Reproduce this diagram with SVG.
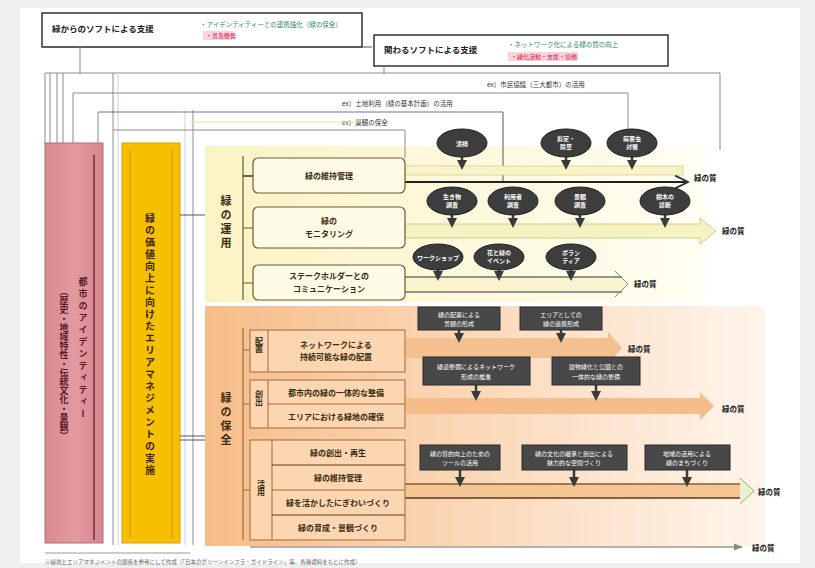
<svg xmlns="http://www.w3.org/2000/svg" width="815" height="568" viewBox="0 0 815 568">
<defs>
<linearGradient id="gOr" x1="0" x2="1" y1="0" y2="0"><stop offset="0" stop-color="#f6bd8a"/><stop offset="0.55" stop-color="#fbdcbf"/><stop offset="1" stop-color="#fff5ec"/></linearGradient>
<linearGradient id="gYe" x1="0" x2="1" y1="0" y2="0"><stop offset="0" stop-color="#faf3c4"/><stop offset="1" stop-color="#fffef3"/></linearGradient>
<linearGradient id="gPk" x1="0" x2="1"><stop offset="0" stop-color="#d98890"/><stop offset="0.5" stop-color="#e39aa0"/><stop offset="1" stop-color="#d6868e"/></linearGradient>
<marker id="dn" viewBox="0 0 10 10" refX="5" refY="5" markerWidth="4" markerHeight="4" orient="auto"><path d="M0,0 L10,5 L0,10 Z" fill="#3a3a3a"/></marker>
<marker id="bk" viewBox="0 0 10 10" refX="9" refY="5" markerWidth="8" markerHeight="8" orient="auto"><path d="M1,1 L9,5 L1,9" fill="none" stroke="#333" stroke-width="1.2"/></marker>
<marker id="gy" viewBox="0 0 10 10" refX="9" refY="5" markerWidth="6" markerHeight="6" orient="auto"><path d="M0,1 L10,5 L0,9 Z" fill="#888"/></marker>
</defs>
<style>
text{font-family:"Noto Sans CJK JP","Noto Sans",sans-serif}
.lbl{font-size:8px;font-weight:bold;fill:#3a2c12;text-anchor:middle}
.ov{fill:#3d3d3d;stroke:#1f1f1f;stroke-width:1}
.ovt{font-size:6px;fill:#fff;font-weight:bold;text-anchor:middle}
.dk{fill:#484848;stroke:#2a2a2a;stroke-width:1}
.dkt{font-size:6px;fill:#fff;text-anchor:middle}
.q{font-size:7.5px;font-weight:bold;fill:#222}
.ln{stroke:#8c8c8c;stroke-width:1;fill:none}
.vt{writing-mode:vertical-rl;font-weight:bold}
.ybox{fill:#fdfbe6;stroke:#6a5c30;stroke-width:1.2}
.obox{fill:#fbd6b0;stroke:#a06a38;stroke-width:1}
.stem{stroke:#3a3a3a;stroke-width:2.5;marker-end:url(#dn)}
.ex{font-size:6.5px;fill:#333}
</style>
<rect width="815" height="568" fill="#efefef"/>
<rect x="20" y="8" width="780" height="555" fill="#ffffff"/>

<!-- top boxes -->
<g id="box-top1">
<rect x="42" y="13" width="320" height="34" fill="#fff" stroke="#333" stroke-width="1.5"/>
<text x="52" y="32" font-size="8.5" font-weight="bold" fill="#222">緑からのソフトによる支援</text>
<text x="200" y="27" font-size="6.5" fill="#2a8a5a">・アイデンティティーとの連携強化（緑の保全）</text>
<rect x="203" y="31" width="30" height="9" fill="#fbd3dc"/>
<text x="206" y="38" font-size="6" fill="#d0204a">・普及啓発</text>
</g>
<g id="box-top2">
<rect x="374" y="35" width="294" height="31" fill="#fff" stroke="#333" stroke-width="1.5"/>
<text x="384" y="53" font-size="8.5" font-weight="bold" fill="#222">関わるソフトによる支援</text>
<text x="508" y="47" font-size="6.5" fill="#2a8a5a">・ネットワーク化による緑の質の向上</text>
<rect x="508" y="52" width="70" height="9" fill="#fbd3dc"/>
<text x="511" y="59" font-size="6" fill="#d0204a">・緑化活動・支援・協働</text>
</g>

<!-- left columns -->
<g id="col-identity">
<rect x="45" y="143" width="58" height="400" fill="url(#gPk)" stroke="#b86a76" stroke-width="1"/>
<line x1="94" y1="155" x2="94" y2="540" stroke="#7a2a3a" stroke-width="1.5"/>
<text x="83" y="277" class="vt" font-size="9" letter-spacing="3" fill="#5a1a28">都市のアイデンティティー</text>
<text x="64" y="287" class="vt" font-size="9" fill="#5a1a28">（歴史・地域特性・伝統文化・景観）</text>
</g>
<g id="col-area">
<rect x="122" y="143" width="58" height="400" fill="#f6c000" stroke="#e0a000" stroke-width="1"/>
<line x1="130" y1="150" x2="130" y2="538" stroke="#d99a00" stroke-width="1.2"/>
<line x1="172" y1="150" x2="172" y2="538" stroke="#d99a00" stroke-width="1.2"/>
<text x="150" y="213" class="vt" font-size="10" letter-spacing="2" fill="#3a2600">緑の価値向上に向けたエリアマネジメントの実施</text>
</g>

<!-- section backgrounds -->
<g id="sec-use">
<rect x="205" y="146" width="500" height="156" fill="url(#gYe)"/>
<text x="226" y="195" class="vt" font-size="11" letter-spacing="3" fill="#3a2c12">緑の運用</text>
<line x1="243" y1="156" x2="243" y2="300" stroke="#6a5c30" stroke-width="1.2"/>
</g>
<g id="sec-create">
<rect x="205" y="306" width="560" height="240" fill="url(#gOr)"/>
<text x="226" y="392" class="vt" font-size="11" letter-spacing="3" fill="#3a2c12">緑の保全</text>
<line x1="243" y1="328" x2="243" y2="540" stroke="#a06a38" stroke-width="1.2"/>
</g>

<!-- connectors -->
<g id="connectors">
<line x1="42" y1="47" x2="372" y2="47" stroke="#555" stroke-width="1"/>
<line x1="80" y1="47" x2="80" y2="73" class="ln"/>
<line x1="384" y1="66" x2="384" y2="73" class="ln"/>
<line x1="45" y1="73" x2="720" y2="73" class="ln"/>
<line x1="45" y1="73" x2="45" y2="143" class="ln"/>
<line x1="50" y1="73" x2="50" y2="143" class="ln"/>
<line x1="57" y1="73" x2="57" y2="143" class="ln"/>
<line x1="63" y1="73" x2="63" y2="143" class="ln"/>
<line x1="113" y1="73" x2="113" y2="545" class="ln"/>
<line x1="118" y1="73" x2="118" y2="545" stroke="#c8d4e4" stroke-width="1"/>
<line x1="185" y1="110" x2="185" y2="545" stroke="#c8d4e4" stroke-width="1"/>
<line x1="193" y1="110" x2="193" y2="545" class="ln"/>
<line x1="720" y1="73" x2="720" y2="150" class="ln"/>
<text x="487" y="87" class="ex">ex）市民協議（三大都市）の活用</text>
<line x1="73" y1="93" x2="628" y2="93" class="ln"/>
<line x1="73" y1="93" x2="73" y2="143" class="ln"/>
<line x1="628" y1="93" x2="628" y2="129" class="ln"/>
<text x="342" y="106" class="ex">ex）土地利用（緑の基本計画）の活用</text>
<line x1="98" y1="112" x2="503" y2="112" stroke="#7070a8" stroke-width="1"/>
<line x1="98" y1="112" x2="98" y2="143" class="ln"/>
<line x1="503" y1="112" x2="503" y2="182" stroke="#555" stroke-width="1"/>
<text x="342" y="125" class="ex">ex）景観の保全</text>
<line x1="113" y1="130" x2="405" y2="130" class="ln"/>
<line x1="405" y1="130" x2="405" y2="158" class="ln"/>
<line x1="190" y1="122" x2="360" y2="122" stroke="#e8e4a0" stroke-width="1"/>
<line x1="180" y1="215" x2="205" y2="215" stroke="#555" stroke-width="1"/>
<line x1="180" y1="436" x2="205" y2="436" stroke="#555" stroke-width="1"/>
<line x1="180" y1="440" x2="205" y2="440" stroke="#555" stroke-width="1"/>
<line x1="243" y1="176" x2="253" y2="176" stroke="#333" stroke-width="1.5"/>
<line x1="243" y1="228" x2="253" y2="228" stroke="#6a5c30"/>
<line x1="243" y1="283" x2="253" y2="283" stroke="#6a5c30"/>
<line x1="243" y1="350" x2="250" y2="350" stroke="#a06a38"/>
<line x1="243" y1="404" x2="250" y2="404" stroke="#a06a38"/>
<line x1="243" y1="490" x2="250" y2="490" stroke="#a06a38"/>

<!-- use arrows -->
<rect x="405" y="166" width="278" height="9" fill="#f8f3c8" stroke="#d8d090" stroke-width="0.8"/>
<line x1="405" y1="182" x2="688" y2="182" stroke="#222" stroke-width="2" marker-end="url(#bk)"/>
<polygon points="405,224 700,224 700,218 716,231 700,244 700,238 405,238" fill="#f6f2c2" stroke="#c8c080" stroke-width="0.8"/>
<polygon points="405,277 615,277 615,272 628,284 615,297 615,292 405,292" fill="#f8f4d0" stroke="none"/>
<line x1="405" y1="277" x2="622" y2="277" stroke="#333" stroke-width="1"/>
<line x1="405" y1="292" x2="622" y2="292" stroke="#333" stroke-width="1"/>
<polyline points="615,271 628,284 615,297" fill="none" stroke="#888" stroke-width="1"/>

<!-- create arrows -->
<polygon points="405,338 608,338 608,332 622,348 608,364 608,358 405,358" fill="#f5c090"/>
<polygon points="405,398 700,398 700,392 714,406 700,420 700,414 405,414" fill="#f4bd8a"/>
<rect x="405" y="484" width="338" height="14" fill="#f5c594"/>
<line x1="405" y1="484" x2="742" y2="484" stroke="#8a5a30" stroke-width="1.5"/>
<line x1="405" y1="498" x2="742" y2="498" stroke="#5a3a20" stroke-width="1.5"/>
<polyline points="740,478 754,491 740,504" fill="#e8f0d0" stroke="#9aa080" stroke-width="1"/>
<line x1="250" y1="547" x2="742" y2="547" stroke="#999" stroke-width="1.5" marker-end="url(#gy)"/>
<line x1="45" y1="553" x2="190" y2="553" stroke="#999" stroke-width="1"/>

<!-- stems -->
<line x1="462" y1="157" x2="462" y2="165" class="stem"/>
<line x1="566" y1="157" x2="566" y2="165" class="stem"/>
<line x1="632" y1="157" x2="632" y2="165" class="stem"/>
<line x1="452" y1="215" x2="452" y2="223" class="stem"/>
<line x1="513" y1="215" x2="513" y2="223" class="stem"/>
<line x1="580" y1="215" x2="580" y2="223" class="stem"/>
<line x1="665" y1="215" x2="665" y2="223" class="stem"/>
<line x1="438" y1="270" x2="438" y2="276" class="stem"/>
<line x1="499" y1="270" x2="499" y2="276" class="stem"/>
<line x1="571" y1="270" x2="571" y2="276" class="stem"/>
<line x1="459" y1="330" x2="459" y2="338" class="stem"/>
<line x1="561" y1="330" x2="561" y2="338" class="stem"/>
<line x1="476" y1="385" x2="476" y2="396" class="stem"/>
<line x1="596" y1="385" x2="596" y2="396" class="stem"/>
<line x1="460" y1="470" x2="460" y2="482" class="stem"/>
<line x1="574" y1="470" x2="574" y2="482" class="stem"/>
<line x1="687" y1="470" x2="687" y2="482" class="stem"/>
</g>

<!-- quality labels -->
<g id="labels-q">
<text x="694" y="181" class="q">緑の質</text>
<text x="722" y="234" class="q">緑の質</text>
<text x="634" y="287" class="q">緑の質</text>
<text x="628" y="352" class="q">緑の質</text>
<text x="722" y="412" class="q" fill="#1a2a6a">緑の質</text>
<text x="758" y="495" class="q">緑の質</text>
<text x="752" y="551" class="q">緑の質</text>
</g>

<!-- use items -->
<g id="n-maintain"><rect x="253" y="158" width="152" height="35" rx="5" class="ybox"/><text x="329" y="179" class="lbl">緑の維持管理</text></g>
<g id="n-monitor"><rect x="253" y="207" width="152" height="41" rx="5" class="ybox"/><text x="329" y="224" class="lbl">緑の</text><text x="329" y="237" class="lbl">モニタリング</text></g>
<g id="n-comm"><rect x="253" y="265" width="152" height="35" rx="5" class="ybox"/><text x="329" y="279" class="lbl">ステークホルダーとの</text><text x="329" y="292" class="lbl">コミュニケーション</text></g>

<!-- ovals -->
<g id="o1"><ellipse cx="462" cy="143" rx="25" ry="14" class="ov"/><text x="462" y="146" class="ovt">清掃</text></g>
<g id="o2"><ellipse cx="566" cy="143" rx="25" ry="14" class="ov"/><text x="566" y="141" class="ovt">剪定・</text><text x="566" y="149" class="ovt">除草</text></g>
<g id="o3"><ellipse cx="632" cy="143" rx="25" ry="14" class="ov"/><text x="632" y="141" class="ovt">病害虫</text><text x="632" y="149" class="ovt">対策</text></g>
<g id="o4"><ellipse cx="452" cy="201" rx="25" ry="14" class="ov"/><text x="452" y="199" class="ovt">生き物</text><text x="452" y="207" class="ovt">調査</text></g>
<g id="o5"><ellipse cx="513" cy="201" rx="25" ry="14" class="ov"/><text x="513" y="199" class="ovt">利用者</text><text x="513" y="207" class="ovt">調査</text></g>
<g id="o6"><ellipse cx="580" cy="201" rx="25" ry="14" class="ov"/><text x="580" y="199" class="ovt">景観</text><text x="580" y="207" class="ovt">調査</text></g>
<g id="o7"><ellipse cx="665" cy="201" rx="25" ry="14" class="ov"/><text x="665" y="199" class="ovt">樹木の</text><text x="665" y="207" class="ovt">診断</text></g>
<g id="o8"><ellipse cx="438" cy="257" rx="25" ry="13" class="ov"/><text x="438" y="260" class="ovt">ワークショップ</text></g>
<g id="o9"><ellipse cx="499" cy="257" rx="25" ry="13" class="ov"/><text x="499" y="255" class="ovt">花と緑の</text><text x="499" y="263" class="ovt">イベント</text></g>
<g id="o10"><ellipse cx="571" cy="257" rx="25" ry="13" class="ov"/><text x="571" y="255" class="ovt">ボラン</text><text x="571" y="263" class="ovt">ティア</text></g>

<!-- create items -->
<g id="n-haichi">
<rect x="250" y="330" width="155" height="42" class="obox"/>
<line x1="268" y1="330" x2="268" y2="372" stroke="#a06a38"/>
<text x="259" y="337" class="vt" font-size="8" fill="#3a2c12">配置</text>
<text x="336" y="348" class="lbl">ネットワークによる</text>
<text x="336" y="360" class="lbl">持続可能な緑の配置</text>
</g>
<g id="n-sosyutsu">
<rect x="250" y="380" width="155" height="48" class="obox"/>
<line x1="268" y1="380" x2="268" y2="428" stroke="#a06a38"/>
<line x1="268" y1="404" x2="405" y2="404" stroke="#a06a38"/>
<text x="259" y="390" class="vt" font-size="8" fill="#3a2c12">創出</text>
<text x="336" y="396" class="lbl">都市内の緑の一体的な整備</text>
<text x="336" y="420" class="lbl">エリアにおける緑地の確保</text>
</g>
<g id="n-katsuyo">
<rect x="250" y="440" width="155" height="100" class="obox"/>
<line x1="272" y1="440" x2="272" y2="540" stroke="#a06a38"/>
<line x1="272" y1="465" x2="405" y2="465" stroke="#5a3a20" stroke-width="1.2"/>
<line x1="272" y1="490" x2="405" y2="490" stroke="#a06a38"/>
<line x1="272" y1="515" x2="405" y2="515" stroke="#5a3a20" stroke-width="1.2"/>
<text x="261" y="480" class="vt" font-size="8" fill="#3a2c12">活用</text>
<text x="338" y="456" class="lbl">緑の創出・再生</text>
<text x="338" y="481" class="lbl">緑の維持管理</text>
<text x="338" y="506" class="lbl">緑を活かしたにぎわいづくり</text>
<text x="338" y="531" class="lbl">緑の育成・景観づくり</text>
</g>

<!-- dark boxes -->
<g id="d1"><rect x="418" y="307" width="82" height="23" class="dk"/><text x="459" y="317" class="dkt">緑の配置による</text><text x="459" y="326" class="dkt">景観の形成</text></g>
<g id="d2"><rect x="520" y="307" width="82" height="23" class="dk"/><text x="561" y="317" class="dkt">エリアとしての</text><text x="561" y="326" class="dkt">緑の連携形成</text></g>
<g id="d3"><rect x="423" y="357" width="107" height="28" class="dk"/><text x="476" y="369" class="dkt">緑道整備によるネットワーク</text><text x="476" y="379" class="dkt">形成の推進</text></g>
<g id="d4"><rect x="552" y="357" width="88" height="28" class="dk"/><text x="596" y="369" class="dkt">建物緑化と公園との</text><text x="596" y="379" class="dkt">一体的な緑の整備</text></g>
<g id="d5"><rect x="420" y="445" width="80" height="25" class="dk"/><text x="460" y="456" class="dkt">緑の質的向上のための</text><text x="460" y="465" class="dkt">ツールの活用</text></g>
<g id="d6"><rect x="522" y="445" width="105" height="25" class="dk"/><text x="574" y="456" class="dkt">緑の文化の継承と創出による</text><text x="574" y="465" class="dkt">魅力的な空間づくり</text></g>
<g id="d7"><rect x="645" y="445" width="85" height="25" class="dk"/><text x="687" y="456" class="dkt">地域の活用による</text><text x="687" y="465" class="dkt">緑のまちづくり</text></g>

<text x="45" y="564" font-size="5.5" fill="#666">※緑地とエリアマネジメントの関係を参考にして作成（「日本のグリーンインフラ・ガイドライン」等、各種資料をもとに作成）</text>
</svg>
